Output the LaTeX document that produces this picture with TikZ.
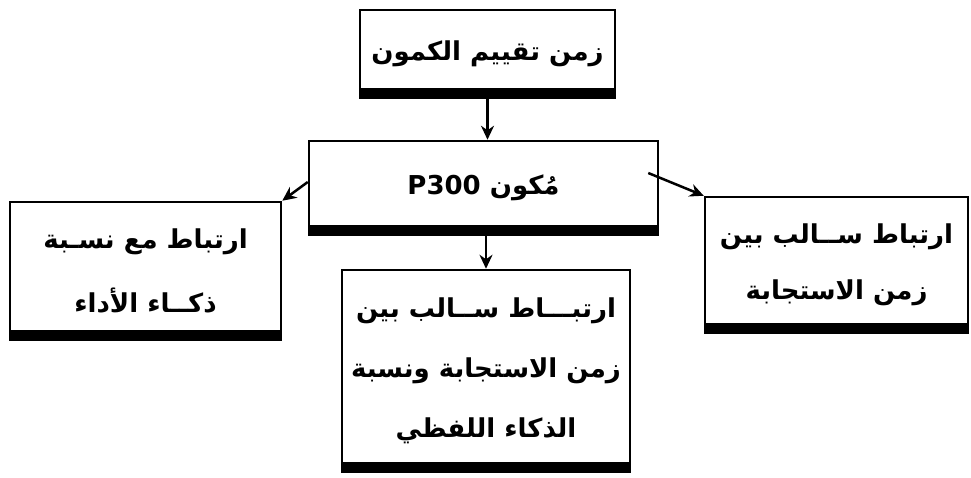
\documentclass[tikz,border=0pt]{standalone}
\usepackage{fontspec}
\TeXXeTstate=1
\newfontfamily\arabicfont[Script=Arabic]{DejaVu Sans}
\usetikzlibrary{arrows.meta}
\tikzset{
  box/.style={draw, line width=2.5pt, rectangle, inner sep=0pt, align=center,
    font=\arabicfont\bfseries\fontsize{26}{60}\selectfont,
    path picture={\fill (path picture bounding box.south west) rectangle ([yshift=10pt]path picture bounding box.south east);}},
  arr/.style={line width=2.5pt, -{Stealth[length=14pt,width=13pt]}}
}
\begin{document}
\begin{tikzpicture}[x=1pt,y=1pt]
\useasboundingbox (0,0) rectangle (971,-478);
\node[box, minimum width=255pt, minimum height=88pt] (top) at (487.5,-54) {\beginR زمن تقييم الكمون\endR};
\node[box, minimum width=349pt, minimum height=94pt] (mid) at (483.5,-188) {\beginR مُكون \beginL P300\endL\endR};
\node[box, minimum width=271pt, minimum height=138pt, font=\arabicfont\bfseries\fontsize{26}{64}\selectfont] (left) at (145.5,-271) {\beginR ارتباط مع نسـبة\endR\\\beginR ذكــاء الأداء\endR};
\node[box, minimum width=263pt, minimum height=136pt, font=\arabicfont\bfseries\fontsize{26}{56}\selectfont] (right) at (836.5,-265) {\beginR ارتباط ســالب بين\endR\\\beginR زمن الاستجابة\endR};
\node[box, minimum width=288pt, minimum height=202pt] (bot) at (486,-371) {\beginR ارتبـــاط ســالب بين\endR\\\beginR زمن الاستجابة ونسبة\endR\\\beginR الذكاء اللفظي\endR};
\draw[arr] (top.south) -- (top.south |- mid.north);
\draw[arr] (bot.north |- mid.south) -- (bot.north);
\draw[arr] ([yshift=6pt]mid.west) -- (left.north east);
\draw[arr] ([xshift=-11pt,yshift=15pt]mid.east) -- (right.north west);
\end{tikzpicture}
\end{document}
